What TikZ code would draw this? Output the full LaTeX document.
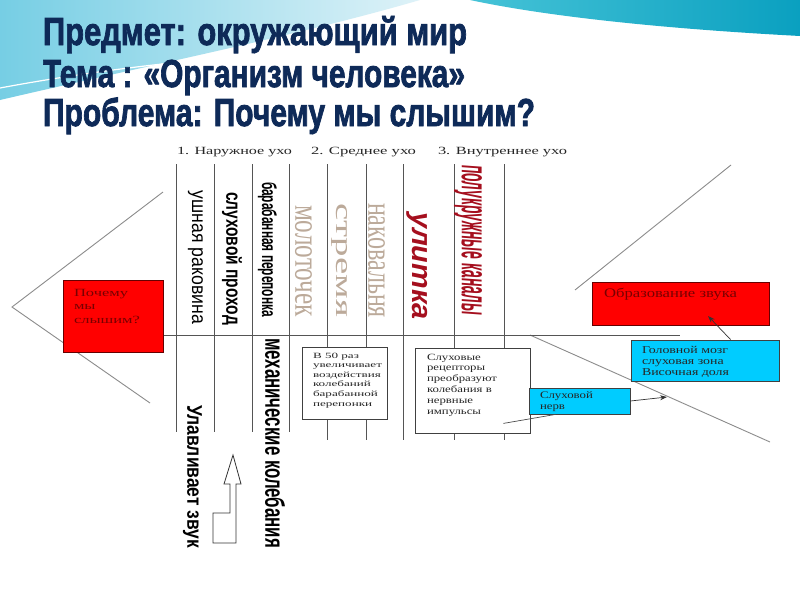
\documentclass[tikz,border=0pt]{standalone}
\usepackage{fontspec}
\usepackage{graphicx}
\setmainfont{Liberation Serif}
\newfontfamily\sansf{Liberation Sans}
\newfontfamily\titlef[BoldFeatures={FakeBold=2.2}]{Liberation Sans}
\usetikzlibrary{calc,arrows.meta}
\definecolor{navy}{RGB}{14,42,88}
\definecolor{bgcyan}{RGB}{118,206,228}
\definecolor{bgpale}{RGB}{222,242,248}
\definecolor{bgteal}{RGB}{10,160,192}
\definecolor{bgtealL}{RGB}{70,195,215}
\definecolor{redfill}{RGB}{255,0,0}
\definecolor{redtext}{RGB}{120,0,0}
\definecolor{bluefill}{RGB}{0,204,255}
\definecolor{taupe}{RGB}{188,170,154}
\definecolor{wine}{RGB}{165,15,30}
\definecolor{ribgray}{RGB}{85,85,85}
\definecolor{diaggray}{RGB}{140,140,140}
\newcommand\vtxt[3]{\resizebox*{#1}{#2}{#3}}
\newcommand\wfit[2]{\resizebox{#1}{\height}{#2}}
\newcommand\blk[1]{\begin{tabular}[t]{@{}l@{}}#1\end{tabular}}
\begin{document}
\begin{tikzpicture}[x=1pt,y=-1pt,
  vtext/.style={rotate=-90,inner sep=0pt,outer sep=0pt},
  txt/.style={inner sep=0pt,outer sep=0pt,anchor=base west},
  rib/.style={ribgray,line width=0.7pt},
  diag/.style={diaggray,line width=0.9pt},
  redbox/.style={draw=black!60!red,fill=redfill,line width=0.8pt,inner sep=0pt},
  bluebox/.style={draw=black!75,fill=bluefill,line width=0.8pt,inner sep=0pt},
  whitebox/.style={draw=black!75,fill=white,line width=0.8pt,inner sep=0pt},
  arr/.style={-{Stealth[length=7pt,width=5pt]},black!80,line width=0.7pt}
]
\useasboundingbox (0,0) rectangle (800,600);
% background
\fill[white] (0,0) rectangle (800,600);
\shade[left color=bgcyan, right color=bgpale] (0,0) -- (420,0) .. controls (300,35) and (150,65) .. (0,100) -- cycle;
\shade[left color=bgtealL, right color=bgteal] (470,0) .. controls (540,15) and (650,28) .. (800,36) -- (800,0) -- cycle;
\draw[white, line width=1.2pt] (0,88) .. controls (150,60) and (350,40) .. (560,55);

% title
\node[txt,text=navy] (t1) at (43,45) {\wfit{424pt}{\titlef\bfseries\fontsize{39}{39}\selectfont Предмет: окружающий мир}};
\node[txt,text=navy] (t2) at (43,87) {\wfit{422pt}{\titlef\bfseries\fontsize{39}{39}\selectfont Тема : «Организм человека»}};
\node[txt,text=navy] (t3) at (43,126) {\wfit{492pt}{\titlef\bfseries\fontsize{39}{39}\selectfont Проблема: Почему мы слышим?}};

% headings
\node[txt,text=black!85] (h1) at (177,154) {\wfit{115pt}{\fontsize{11}{11}\selectfont 1. Наружное ухо}};
\node[txt,text=black!85] (h2) at (311,154) {\wfit{105pt}{\fontsize{11}{11}\selectfont 2. Среднее ухо}};
\node[txt,text=black!85] (h3) at (438,154) {\wfit{129pt}{\fontsize{11}{11}\selectfont 3. Внутреннее ухо}};

% skeleton lines
\foreach \x in {176,214,252,289,327,366,403,454,504} \draw[rib] (\x,164) -- (\x,335);
\foreach \x in {176,214,252,289} \draw[rib] (\x,335) -- (\x,432);
\foreach \x in {327,366,403,454,504} \draw[rib] (\x,335) -- (\x,440);
\draw[diag] (163,192) -- (12,307) -- (150,403);
\draw[diag] (731,165) -- (575,290);
\draw[diag] (530,335) -- (770,442);
\draw[ribgray,line width=0.8pt] (163,335) -- (680,335);

% boxes
\node[redbox, minimum width=100pt, minimum height=72pt] (why) at (113,316) {};
\node[redbox, minimum width=177pt, minimum height=43pt] (zvuk) at (680.5,303.5) {};
\node[whitebox, minimum width=85pt, minimum height=72pt] (perep) at (344.5,383) {};
\node[whitebox, minimum width=115pt, minimum height=85pt] (recept) at (472.5,390.5) {};
\node[bluebox, minimum width=148pt, minimum height=41pt] (mozg) at (705,360.5) {};
\node[bluebox, minimum width=101pt, minimum height=26pt] (nerv) at (579.5,401) {};

% connectors
\coordinate (tipA) at (708,316);
\coordinate (tipB) at (667,397);
\draw[arr] ($(mozg.north west)+(100,0)$) -- (tipA);
\draw[arr] (nerv.east) -- (tipB);
\draw[black!70,line width=0.7pt] ($(recept.south east)+(-27,-10)$) -- ($(nerv.south west)+(27,0)$);

% hollow arrow
\draw[black!80,fill=white,line width=0.8pt] (233,455) -- (241,484) -- (236,484) -- (236,543) -- (213,543) -- (213,513) -- (230,513) -- (230,484) -- (224,484) -- cycle;

% box texts
\node[txt,text=redtext] (whyt) at (74,296) {\wfit{66pt}{\fontsize{11}{13.5}\selectfont\blk{Почему\\мы\\слышим?}}};
\node[txt,text=redtext] (zvukt) at (604,297) {\wfit{133pt}{\fontsize{13}{13}\selectfont Образование звука}};
\node[txt,text=black!85] (perept) at (313,358) {\wfit{69pt}{\fontsize{8}{9.6}\selectfont\blk{В 50 раз\\увеличивает\\воздействия\\колебаний\\барабанной\\перепонки}}};
\node[txt,text=black!85] (receptt) at (427,360) {\wfit{70pt}{\fontsize{9.5}{10.8}\selectfont\blk{Слуховые\\рецепторы\\преобразуют\\колебания в\\нервные\\импульсы}}};
\node[txt,text=black!85] (mozgt) at (642,353) {\wfit{87pt}{\fontsize{10.5}{11}\selectfont\blk{Головной мозг\\слуховая зона\\Височная доля}}};
\node[txt,text=black!85] (nervt) at (540,398) {\wfit{53pt}{\fontsize{10}{11}\selectfont\blk{Слуховой\\нерв}}};

% vertical texts
\node[vtext] (v1) at (195.5,257.5) {\vtxt{133pt}{15pt}{\sansf\fontsize{14}{14}\selectfont ушная раковина}};
\node[vtext] (v2) at (232,258.5) {\vtxt{133pt}{20pt}{\sansf\bfseries\fontsize{14}{14}\selectfont слуховой проход}};
\node[vtext] (v3) at (267.5,249.5) {\vtxt{135pt}{19pt}{\sansf\bfseries\fontsize{14}{14}\selectfont барабанная перепонка}};
\node[vtext,text=taupe] (v4) at (303.5,261) {\vtxt{112pt}{17pt}{\fontsize{14}{14}\selectfont молоточек}};
\node[vtext,text=taupe] (v5) at (340,260) {\vtxt{114pt}{16pt}{\fontsize{14}{14}\selectfont стремя}};
\node[vtext,text=taupe] (v6) at (376.5,260.5) {\vtxt{115pt}{17pt}{\fontsize{14}{14}\selectfont наковальня}};
\node[vtext,text=wine] (v7) at (417.5,266) {\vtxt{108pt}{21pt}{\sansf\bfseries\itshape\fontsize{14}{14}\selectfont улитка}};
\node[vtext,text=wine] (v8) at (468,240) {\vtxt{150pt}{28pt}{\sansf\bfseries\itshape\fontsize{14}{14}\selectfont полукружные каналы}};
\node[vtext] (v9) at (192.5,476.5) {\vtxt{143pt}{19pt}{\sansf\bfseries\fontsize{14}{14}\selectfont Улавливает звук}};
\node[vtext] (v10) at (275,443) {\vtxt{210pt}{20pt}{\sansf\bfseries\fontsize{14}{14}\selectfont механические колебания}};
\end{tikzpicture}
\end{document}
